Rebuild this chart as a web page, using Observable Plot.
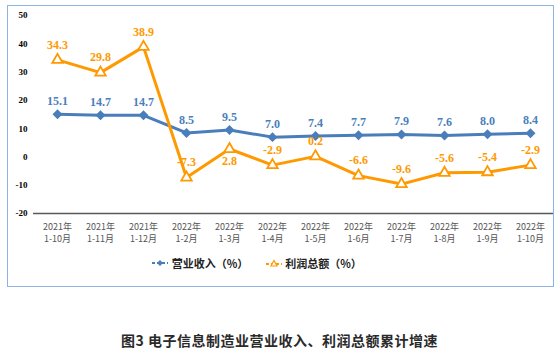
<!DOCTYPE html>
<html><head><meta charset="utf-8">
<script src="https://cdn.jsdelivr.net/npm/d3@7"></script>
<script src="https://cdn.jsdelivr.net/npm/@observablehq/plot@0.6"></script>
<style>
body{margin:0;background:#fff;width:559px;height:355px;position:relative;overflow:hidden;font-family:"Noto Sans CJK SC",sans-serif;}
#frame{position:absolute;left:7px;top:5px;width:545px;height:280px;border:1.5px solid #8db3e2;}
#chart{position:absolute;left:0;top:0;}
#legend{position:absolute;left:-24px;top:249px;width:545px;text-align:center;font-size:11px;font-weight:bold;color:#222;}
#legend span.item{display:inline-flex;align-items:center;margin:0 7px;}
#caption{position:absolute;left:0;top:330px;width:559px;text-align:center;font-size:14px;font-weight:bold;color:#2a2a2a;letter-spacing:0.5px;}
</style></head>
<body>
<div id="frame"><div id="chart"></div>
<div id="legend">
<span class="item"><svg width="18" height="10"><line x1="1" y1="5" x2="17" y2="5" stroke="#4a7ebb" stroke-width="2" stroke-dasharray="3,2"/><path d="M9 2 L12 5 L9 8 L6 5Z" fill="#4a7ebb"/></svg>&nbsp;营业收入（%）</span>
<span class="item"><svg width="18" height="10"><line x1="1" y1="6" x2="17" y2="6" stroke="#ff9900" stroke-width="2" stroke-dasharray="3,2"/><path d="M9 2.5 L12 8 L6 8Z" fill="#fff" stroke="#ff9900" stroke-width="1.2"/></svg>&nbsp;利润总额（%）</span>
</div></div>
<div id="caption">图3 电子信息制造业营业收入、利润总额累计增速</div>
<script>
const periods = ["2021年\n1-10月","2021年\n1-11月","2021年\n1-12月","2022年\n1-2月","2022年\n1-3月","2022年\n1-4月","2022年\n1-5月","2022年\n1-6月","2022年\n1-7月","2022年\n1-8月","2022年\n1-9月","2022年\n1-10月"];
const revenue = [15.1,14.7,14.7,8.5,9.5,7.0,7.4,7.7,7.9,7.6,8.0,8.4];
const profit = [34.3,29.8,38.9,-7.3,2.8,-2.9,0.2,-6.6,-9.6,-5.6,-5.4,-2.9];
const profitLabelBelow = [false,false,false,false,true,false,false,false,false,false,false,false];
const yTicks = [-20,-10,0,10,20,30,40,50];

const rev = periods.map((p,i)=>({p, v: revenue[i]}));
const pro = periods.map((p,i)=>({p, v: profit[i], below: profitLabelBelow[i]}));
const blue = "#4a7ebb", orange = "#ff9900";

const chart = Plot.plot({
  width: 545, height: 240,
  marginLeft: 25, marginRight: 0, marginTop: 9, marginBottom: 33,
  style: {fontFamily: "'Liberation Serif', serif", background: "transparent"},
  x: {type: "point", domain: periods, padding: 0.5, label: null},
  y: {domain: [-20, 50], ticks: yTicks, label: null},
  marks: [
    Plot.axisY({ticks: yTicks, tickSize: 0, tickPadding: 6, fontSize: 9, fontWeight: "bold", fill: "#000", tickFormat: d => d, label: null}),
    Plot.axisX({tickSize: 0, tickPadding: 8, fontSize: 9, fill: "#555", fontFamily: "'Noto Sans CJK SC', sans-serif", lineHeight: 1.3, label: null}),
    Plot.ruleY([-20], {stroke: "#595959", strokeWidth: 1.5}),
    Plot.ruleX([-20], {x: () => null, frameAnchor: "left", y1: -20, y2: 50, stroke: "#333", strokeWidth: 1.5}),
    Plot.line(rev, {x: "p", y: "v", stroke: blue, strokeWidth: 3}),
    Plot.dot(rev, {x: "p", y: "v", symbol: "diamond2", r: 4.5, fill: blue, stroke: "none"}),
    Plot.line(pro, {x: "p", y: "v", stroke: orange, strokeWidth: 3}),
    Plot.dot(pro, {x: "p", y: "v", symbol: "triangle2", r: 5, fill: "#fff", stroke: orange, strokeWidth: 1.8}),
    Plot.text(rev, {x: "p", y: "v", text: d => d.v.toFixed(1), dy: -13, fill: blue, fontSize: 12, fontWeight: "bold"}),
    Plot.text(pro.filter(d => !d.below), {x: "p", y: "v", text: d => d.v.toFixed(1), dy: -15, fill: orange, fontSize: 12, fontWeight: "bold"}),
    Plot.text(pro.filter(d => d.below), {x: "p", y: "v", text: d => d.v.toFixed(1), dy: 12, fill: orange, fontSize: 12, fontWeight: "bold"})
  ]
});
document.getElementById("chart").appendChild(chart);
</script>
</body></html>
